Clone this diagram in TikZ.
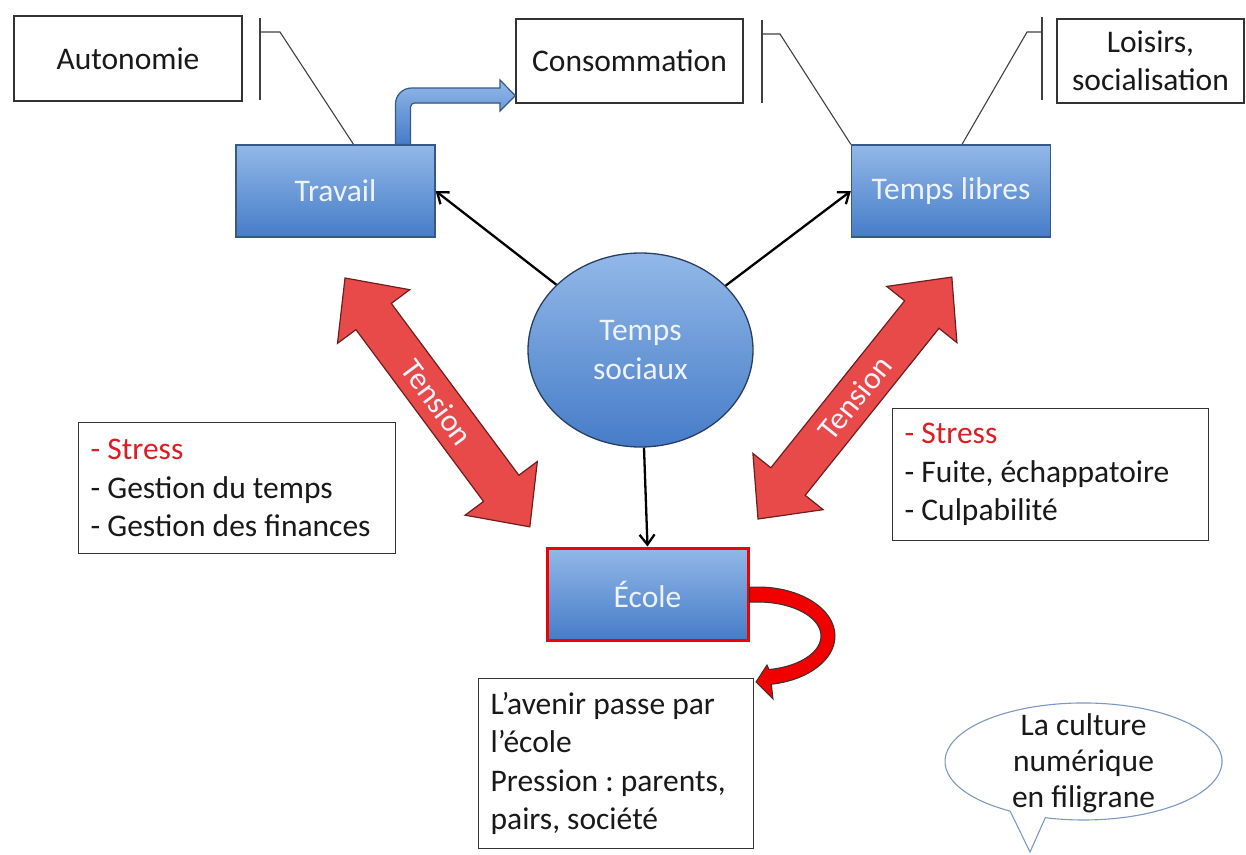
\documentclass[tikz,border=0pt]{standalone}
\usepackage{fontspec}
\setmainfont{Carlito}
\usepackage{tikz}
\usetikzlibrary{arrows.meta,shapes.geometric}
\usepackage{xcolor}
\definecolor{boxtop}{RGB}{146,184,232}
\definecolor{boxbot}{RGB}{70,124,200}
\definecolor{boxline}{RGB}{56,88,138}
\definecolor{tensred}{RGB}{232,74,74}
\definecolor{tensline}{RGB}{110,30,30}
\definecolor{stressred}{RGB}{222,28,36}
\definecolor{bubbleline}{RGB}{125,152,196}
\definecolor{paletext}{RGB}{238,243,250}
\frenchspacing

\begin{document}
\begin{tikzpicture}[x=1pt, y=-1pt,
  every node/.style={font=\fontsize{31.5}{38.5}\selectfont},
  plain/.style={draw=black!80, line width=1.3pt, fill=white, text=black!90, align=center, inner sep=0pt},
  listbox/.style={plain, align=flush left, anchor=north west, inner xsep=12pt, inner ysep=0pt},
  bluebox/.style={draw=boxline, line width=1.3pt, top color=boxtop, bottom color=boxbot, text=paletext, minimum width=199pt, minimum height=92pt, inner sep=0pt},
  link/.style={line width=2.3pt, -{Straight Barb[length=10pt, width=15pt]}},
  marker/.style={line width=1.1pt, black!75},
  tensarrow/.style={fill=tensred, draw=tensline, line width=1.2pt},
  bentarrow/.style={draw=boxline, line width=1.2pt, top color=boxtop, bottom color=boxbot}]
  \useasboundingbox (0,0) rectangle (1246,854);

  \node[plain, minimum width=228pt, minimum height=85pt] (auto) at (128,58.5) {Autonomie};
  \node[plain, minimum width=227pt, minimum height=84pt] (conso) at (629.5,61) {Consommation};
  \node[plain, minimum width=187pt, minimum height=84pt] (loisirs) at (1150.5,61) {Loisirs,\\socialisation};

  \node[bluebox] (trav) at (335.5,191) {Travail};
  \node[bluebox] (libres) at (951,191) {Temps libres};
  \node[bluebox, draw=red!95!black, line width=3pt, minimum width=201pt] (ecole) at (647.5,594) {École};
  \node[ellipse, draw=boxline!70!black, line width=1.3pt, top color=boxtop, bottom color=boxbot, text=paletext,
        minimum width=225pt, minimum height=194pt, inner sep=0pt, align=center] (temps) at (640.5,350) {Temps\\sociaux};

  \coordinate (autoTick) at (280,32);
  \coordinate (consoTick) at (780,34);
  \coordinate (loisirsTick) at (1027,32);
  \draw[marker] (260,18) -- (260,100);
  \draw[marker] (260,32) -- (autoTick) -- ([xshift=18pt]trav.north);
  \draw[marker] (762,20) -- (762,103);
  \draw[marker] (762,34) -- (consoTick) -- (libres.north west);
  \draw[marker] (1042,17) -- (1042,100);
  \draw[marker] (1042,32) -- (loisirsTick) -- ([xshift=11pt]libres.north);

  \filldraw[bentarrow] ([xshift=60pt]trav.north) -- (395.5,104) arc[start angle=180, end angle=270, radius=16]
    -- (500,88) -- (500,80) -- ([yshift=8pt]conso.south west) -- (500,111) -- (500,103)
    -- (414.5,103) arc[start angle=270, end angle=180, radius=4] -- ([xshift=75pt]trav.north) -- cycle;

  \draw[link] (temps) -- (trav.east);
  \draw[link] (temps) -- (libres.west);
  \draw[link] (temps) -- (ecole.north);

  \begin{scope}[shift={(345,278)}, rotate=-53.4]
    \filldraw[tensarrow] (0,0) -- (48,45) -- (48,22) -- (262,22) -- (262,45) -- (310,0)
      -- (262,-45) -- (262,-22) -- (48,-22) -- (48,-45) -- cycle;
    \node[text=paletext, transform shape] (tensionL) at (155,0) {Tension};
  \end{scope}
  \begin{scope}[shift={(758,519)}, rotate=51.3]
    \filldraw[tensarrow] (0,0) -- (48,45) -- (48,22) -- (262,22) -- (262,45) -- (310,0)
      -- (262,-45) -- (262,-22) -- (48,-22) -- (48,-45) -- cycle;
    \node[text=paletext, transform shape] (tensionR) at (155,0) {Tension};
  \end{scope}

  \node[listbox, minimum width=317pt, minimum height=131pt, text width=293pt] (gauche) at (78,422)
    {\textcolor{stressred}{- Stress}\\- Gestion du temps\\- Gestion des finances};
  \node[listbox, minimum width=316pt, minimum height=132pt, text width=292pt] (droite) at (892,408)
    {\textcolor{stressred}{- Stress}\\- Fuite, échappatoire\\- Culpabilité};
  \node[listbox, minimum width=275pt, minimum height=170pt, text width=251pt] (avenir) at (478,678)
    {L’avenir passe par\\l’école\\Pression : parents,\\pairs, société};

  \filldraw[draw=black!80, line width=1pt, fill=red!95!black] ([yshift=7pt]ecole.east) -- (758,587)
    arc[start angle=-90, end angle=80, x radius=77, y radius=49] -- (773,699) -- (756,682) -- (767,665)
    -- (768.9,669.5) arc[start angle=80, end angle=-90, x radius=63, y radius=34] -- ([yshift=-8pt]ecole.east) -- cycle;

  \filldraw[draw=bubbleline, line width=1.1pt, fill=white] (1045.3,817.7)
    arc[start angle=106, end angle=-238, x radius=138.5, y radius=58.5] -- (1030,852) -- cycle;
  \node[text=black!90, align=center, font=\fontsize{31.5}{36}\selectfont] (culture) at (1083.5,763)
    {La culture\\numérique\\en filigrane};
\end{tikzpicture}
\end{document}
